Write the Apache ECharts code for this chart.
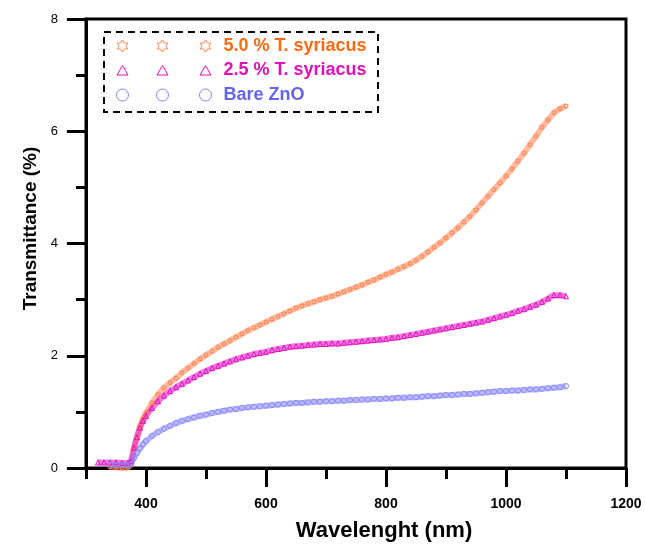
<!DOCTYPE html>
<html>
<head>
<meta charset="utf-8">
<script src="https://cdn.jsdelivr.net/npm/echarts@6/dist/echarts.min.js"></script>
<style>
  html, body { margin: 0; padding: 0; background: #fff; }
  #main { width: 645px; height: 547px; }
</style>
</head>
<body>
<div id="main"></div>
<script>
// wavelength (nm)
const wavelength = [
  320, 330, 340, 350, 360, 370, 375, 380, 385, 390, 395, 400,
  410, 420, 430, 440, 450, 460, 470, 480, 490, 500,
  510, 520, 530, 540, 550, 560, 570, 580, 590, 600,
  610, 620, 630, 640, 650, 660, 670, 680, 690, 700,
  710, 720, 730, 740, 750, 760, 770, 780, 790, 800,
  810, 820, 830, 840, 850, 860, 870, 880, 890, 900,
  910, 920, 930, 940, 950, 960, 970, 980, 990, 1000,
  1010, 1020, 1030, 1040, 1050, 1060, 1070, 1080, 1090, 1100
]

// transmittance (%)
const syriacus50 = [
  null, null, 0.02, 0.01, 0.0, 0.01, 0.06, 0.33, 0.55, 0.74, 0.88, 0.98,
  1.16, 1.31, 1.43, 1.52, 1.60, 1.70, 1.78, 1.86, 1.94, 2.01,
  2.08, 2.15, 2.21, 2.27, 2.33, 2.39, 2.45, 2.50, 2.55, 2.60,
  2.65, 2.70, 2.75, 2.80, 2.85, 2.89, 2.93, 2.96, 3.00, 3.03,
  3.06, 3.10, 3.14, 3.18, 3.22, 3.26, 3.31, 3.35, 3.40, 3.45,
  3.49, 3.54, 3.59, 3.64, 3.70, 3.77, 3.85, 3.93, 4.01, 4.10,
  4.19, 4.28, 4.38, 4.48, 4.60, 4.72, 4.84, 4.96, 5.08, 5.20,
  5.33, 5.47, 5.61, 5.76, 5.91, 6.07, 6.20, 6.33, 6.40, 6.45
]
const syriacus25 = [
  0.10, 0.10, 0.10, 0.10, 0.09, 0.09, 0.12, 0.36, 0.55, 0.72, 0.84, 0.93,
  1.07, 1.19, 1.29, 1.37, 1.44, 1.50, 1.56, 1.62, 1.68, 1.73,
  1.78, 1.82, 1.86, 1.90, 1.94, 1.97, 2.00, 2.03, 2.05, 2.07,
  2.10, 2.12, 2.14, 2.16, 2.17, 2.18, 2.19, 2.20, 2.21, 2.21,
  2.22, 2.22, 2.23, 2.24, 2.25, 2.26, 2.27, 2.28, 2.29, 2.30,
  2.32, 2.33, 2.35, 2.37, 2.39, 2.41, 2.43, 2.45, 2.47, 2.49,
  2.51, 2.53, 2.55, 2.57, 2.59, 2.61, 2.64, 2.67, 2.70, 2.73,
  2.76, 2.80, 2.83, 2.87, 2.91, 2.96, 3.02, 3.08, 3.08, 3.06
]
const bareZnO = [
  null, null, 0.06, 0.05, 0.05, 0.05, 0.07, 0.18, 0.27, 0.35, 0.42, 0.48,
  0.57, 0.64, 0.70, 0.75, 0.80, 0.84, 0.87, 0.90, 0.93, 0.95,
  0.98, 1.00, 1.02, 1.04, 1.05, 1.07, 1.08, 1.09, 1.10, 1.11,
  1.12, 1.13, 1.14, 1.15, 1.16, 1.16, 1.17, 1.18, 1.18, 1.19,
  1.19, 1.20, 1.20, 1.21, 1.21, 1.22, 1.22, 1.23, 1.23, 1.24,
  1.24, 1.25, 1.25, 1.26, 1.26, 1.27, 1.28, 1.28, 1.29, 1.30,
  1.30, 1.31, 1.32, 1.32, 1.33, 1.34, 1.35, 1.36, 1.37, 1.37,
  1.38, 1.38, 1.39, 1.40, 1.40, 1.41, 1.42, 1.43, 1.44, 1.46
]

const seriesNames = ['5.0 % T. syriacus', '2.5 % T. syriacus', 'Bare ZnO']
const xTickLabels = [400, 600, 800, 1000, 1200]

const FONT = 'Liberation Sans, Arial, sans-serif'
const markColors = ['#ff8552', '#e40cc0', '#8585ff']
const textColors = ['#ff6a10', '#e010b8', '#6565ea']

// six-pointed star outline
function star(cx, cy, r) {
  let d = ''
  for (let i = 0; i < 12; i++) {
    const a = (-90 + i * 30) * Math.PI / 180
    const rr = i % 2 === 0 ? r : r / Math.sqrt(3)
    d += (i === 0 ? 'M' : 'L') + (cx + rr * Math.cos(a)).toFixed(2) + ' ' + (cy + rr * Math.sin(a)).toFixed(2)
  }
  return d + 'Z'
}
function tri(cx, cy) {
  return 'M' + cx + ' ' + (cy - 5) + 'L' + (cx + 5.5) + ' ' + (cy + 4.5) + 'L' + (cx - 5.5) + ' ' + (cy + 4.5) + 'Z'
}
function circ(cx, cy, r) {
  return 'M' + (cx - r) + ' ' + cy + 'A' + r + ' ' + r + ' 0 1 0 ' + (cx + r) + ' ' + cy +
    'A' + r + ' ' + r + ' 0 1 0 ' + (cx - r) + ' ' + cy + 'Z'
}
// legend icon: three markers in a 104x12 box
const iconXs = [8, 48, 91]
function legendIcon(fn) {
  return 'path://M0 0' + iconXs.map(x => fn(x, 6, 6)).join('') + 'M104 12'
}

const symbols = ['path://' + star(0, 0, 10), 'triangle', 'circle']
const values = [syriacus50, syriacus25, bareZnO]

const chart = echarts.init(document.getElementById('main'))

const axisLine = { show: true, onZero: false, lineStyle: { color: '#000', width: 3 } }
const tickLine = { color: '#000', width: 3 }

const option = {
  animation: false,
  backgroundColor: '#fff',
  grid: {
    left: 86, right: 19, top: 19, bottom: 78,
    show: true, borderColor: '#000', borderWidth: 3
  },
  legend: {
    orient: 'vertical',
    left: 114,
    top: 37,
    padding: 0,
    itemGap: 6.5,
    itemWidth: 104,
    itemHeight: 12,
    selectedMode: false,
    textStyle: { fontFamily: FONT, fontSize: 18, fontWeight: 'bold', lineHeight: 18 },
    data: seriesNames.map((name, i) => ({
      name: name,
      icon: legendIcon([star, tri, circ][i]),
      itemStyle: { color: 'rgba(0,0,0,0)', borderColor: markColors[i], borderWidth: 1 },
      textStyle: { color: textColors[i] }
    }))
  },
  graphic: [{
    type: 'rect',
    shape: { x: 104, y: 32, width: 274, height: 80 },
    style: { fill: 'none', stroke: '#000', lineWidth: 2, lineDash: [7, 5] },
    z: 10
  }],
  xAxis: [
    {
      type: 'value', min: 300, max: 1200, interval: 100, position: 'bottom',
      axisLine: axisLine,
      axisTick: { length: 11, lineStyle: tickLine },
      axisLabel: { show: false },
      splitLine: { show: false }
    },
    {
      type: 'value', min: 300, max: 1200, position: 'bottom',
      axisLine: { show: false },
      axisTick: { length: 19, customValues: xTickLabels, lineStyle: tickLine },
      axisLabel: {
        customValues: xTickLabels, margin: 29,
        formatter: v => String(v),
        fontFamily: FONT, fontSize: 14, fontWeight: 'bold', color: '#000'
      },
      splitLine: { show: false },
      name: 'Wavelenght (nm)',
      nameLocation: 'middle',
      nameGap: 52,
      nameTextStyle: { fontFamily: FONT, fontSize: 22, fontWeight: 'bold', color: '#000', padding: [0, 0, 0, 56] }
    }
  ],
  yAxis: {
    type: 'value', min: 0, max: 8, interval: 2,
    axisLine: axisLine,
    axisTick: { length: 19, lineStyle: tickLine },
    minorTick: { show: true, splitNumber: 2, length: 10, lineStyle: tickLine },
    axisLabel: { margin: 28, fontFamily: FONT, fontSize: 13, color: '#000' },
    splitLine: { show: false },
    name: 'Transmittance (%)',
    nameLocation: 'middle',
    nameGap: 43,
    nameTextStyle: { fontFamily: FONT, fontSize: 19, fontWeight: 'bold', color: '#000', padding: [0, 0, 0, 30] }
  },
  series: seriesNames.map((name, i) => ({
    name: name,
    type: 'line',
    xAxisIndex: 0,
    data: wavelength.map((w, k) => [w, values[i][k]]).filter(p => p[1] !== null),
    symbol: symbols[i],
    symbolSize: 5,
    symbolKeepAspect: true,
    showAllSymbol: true,
    itemStyle: { color: 'rgba(0,0,0,0)', borderColor: markColors[i], borderWidth: 1 },
    lineStyle: { color: markColors[i], width: 6, opacity: 0.55 },
    emphasis: { disabled: true }
  }))
}

option && chart.setOption(option)
</script>
</body>
</html>
